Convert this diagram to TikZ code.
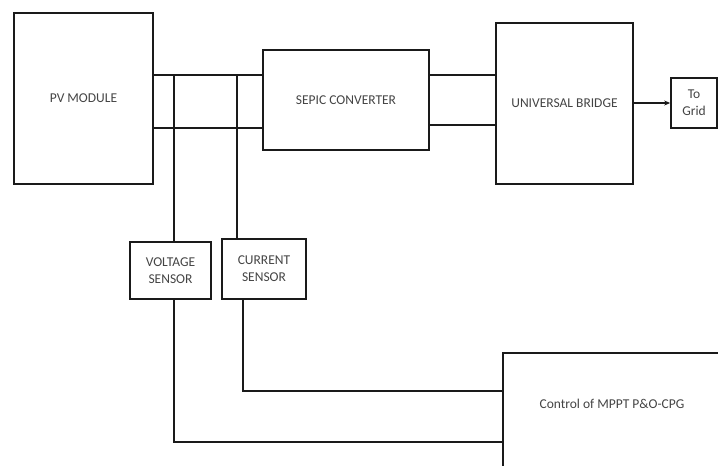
\documentclass[tikz,border=0pt]{standalone}
\usepackage{fontspec}
\setmainfont{Carlito}
\usetikzlibrary{positioning,arrows.meta}
\definecolor{ink}{HTML}{1A1A1A}
\definecolor{label}{HTML}{444444}

\begin{document}
\begin{tikzpicture}[
  x=1pt, y=-1pt,
  block/.style={draw=ink, line width=1.7pt, inner sep=0pt, align=center, text=label, font=\fontsize{13.5}{17}\selectfont},
  wire/.style={draw=ink, line width=1.4pt},
  arrow/.style={wire, -{Stealth[length=6pt, width=5pt]}},
]
\useasboundingbox (0,0) rectangle (718,466);
\clip (0,0) rectangle (718,466);
% main chain
\node[block, minimum width=139pt, minimum height=171pt] (pv) at (83.5,98.5) {PV MODULE};
\node[block, minimum width=166pt, minimum height=100pt] (sepic) at (346,100) {SEPIC CONVERTER};
\node[block, minimum width=137pt, minimum height=161pt] (bridge) at (564.5,103.5) {UNIVERSAL BRIDGE};
\node[block, minimum width=46pt, minimum height=50pt] (grid) at (694,103) {To\\Grid};
% sensors and control
\node[block, minimum width=81pt, minimum height=57pt] (vsens) at (170.5,270.5) {VOLTAGE\\SENSOR};
\node[block, minimum width=84pt, minimum height=60pt] (csens) at (264,269) {CURRENT\\SENSOR};
\node[block, anchor=north west, minimum width=240pt, minimum height=150pt] (ctrl) at (502,352) {};
\node[text=label, font=\fontsize{13.5}{17}\selectfont] (ctrltext) at (612,404) {Control of MPPT P\&O-CPG};
% wire levels
\coordinate (top) at (0,75);
\coordinate (bot) at (0,128);
\coordinate (bot2) at (0,125);
\coordinate (vtap) at (174,75);
\coordinate (itap) at (237,75);
\coordinate (iout) at (243,0);
\coordinate (vlev) at (0,442);
\coordinate (ilev) at (0,391);
\draw[wire] (pv.east |- top) -- (sepic.west |- top);
\draw[wire] (pv.east |- bot) -- (sepic.west |- bot);
\draw[wire] (sepic.east |- top) -- (bridge.west |- top);
\draw[wire] (sepic.east |- bot2) -- (bridge.west |- bot2);
\draw[arrow] (bridge.east |- grid.west) -- (grid.west);
\draw[wire] (vtap) -- (vtap |- vsens.north);
\draw[wire] (itap) -- (itap |- csens.north);
\draw[wire] (vtap |- vsens.south) |- (ctrl.west |- vlev);
\draw[wire] (iout |- csens.south) |- (ctrl.west |- ilev);
\end{tikzpicture}
\end{document}
